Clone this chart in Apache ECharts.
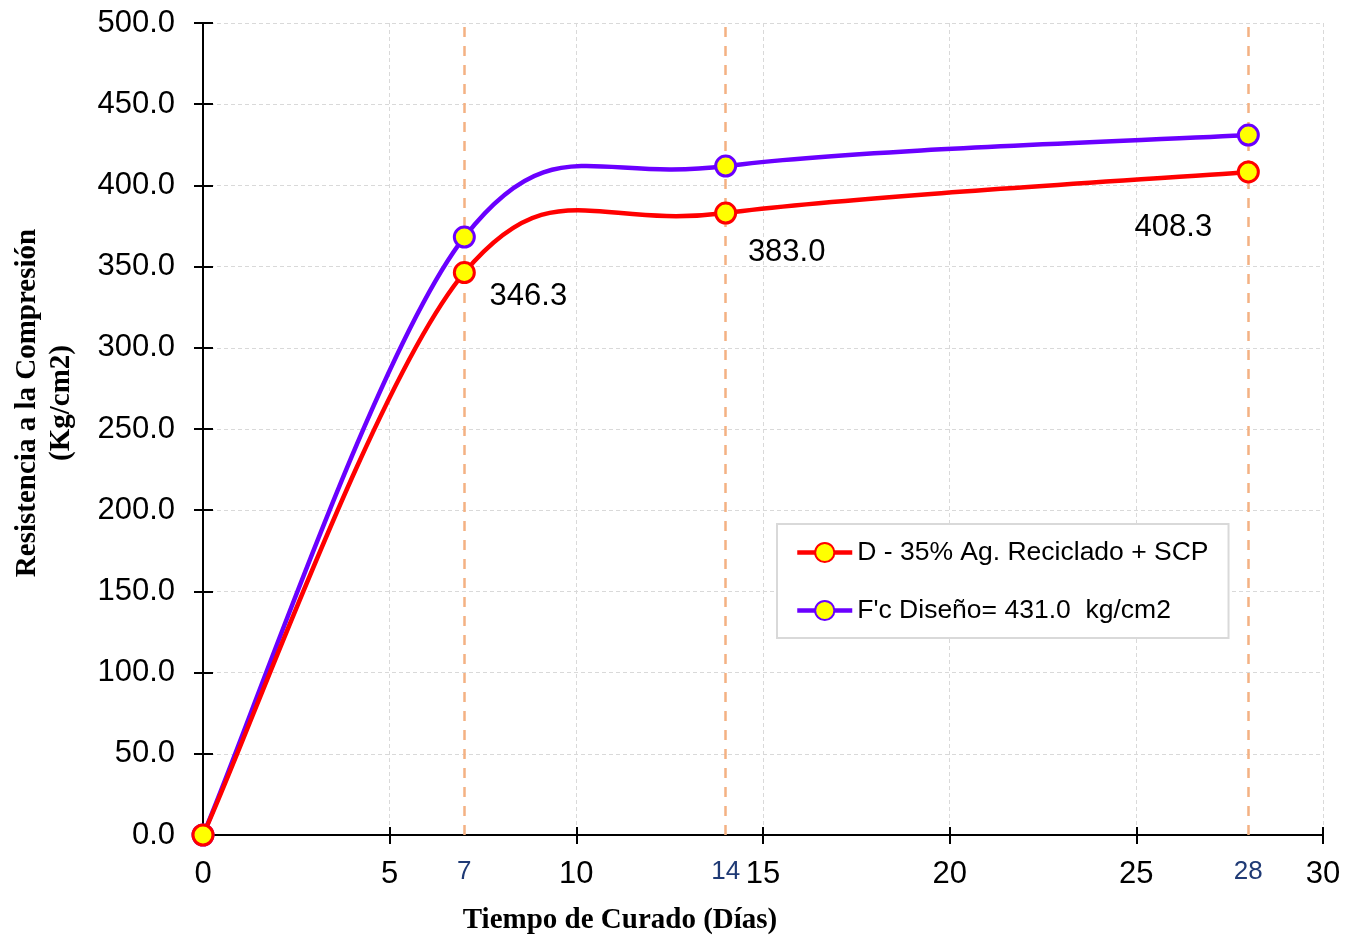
<!DOCTYPE html>
<html>
<head>
<meta charset="utf-8">
<script src="https://cdn.jsdelivr.net/npm/echarts@6/dist/echarts.min.js"></script>
<style>html,body{margin:0;padding:0;background:#fff}#c{width:1348px;height:942px}</style>
</head>
<body>
<div id="c"></div>
<script>
const days = [0, 7, 14, 28];
const redName = 'D - 35% Ag. Reciclado + SCP';
const purpleName = "F'c Diseño= 431.0  kg/cm2";
const redValues = [0, 346.3, 383.0, 408.3];
const purpleValues = [0, 368.2, 411.9, 431.0];
const ageMarks = [7, 14, 28];
const xTitle = 'Tiempo de Curado (Días)';
const yTitle1 = 'Resistencia a la Compresión';
const yTitle2 = '(Kg/cm2)';

const RED = '#FF0000';
const PURPLE = '#6A00FF';
const chart = echarts.init(document.getElementById('c'));
const FONT = '"Liberation Sans", Arial, sans-serif';
const SERIF = '"Liberation Serif", "Times New Roman", serif';

const redLabelOffsets = [null, [64, 24], [61, 39], [-75, 56]];
const redData = days.map((d, i) => {
  const item = { value: [d, redValues[i]] };
  if (redLabelOffsets[i]) {
    item.label = { show: true, position: 'inside', offset: redLabelOffsets[i],
      formatter: redValues[i].toFixed(1), fontSize: 31, color: '#000', fontFamily: FONT };
  }
  return item;
});
const purpleData = days.map((d, i) => [d, purpleValues[i]]);

// Excel-like smoothed curve (Catmull-Rom in screen space) drawn through the chart's own coordinate system
function curveSeries(id, values, color, z) {
  return {
    type: 'custom', id: id, z: z, silent: true, clip: false,
    data: days.map((d, i) => [d, values[i]]),
    encode: { x: 0, y: 1 },
    renderItem: function (params, api) {
      const i = params.dataIndex;
      if (i >= days.length - 1) return { type: 'group', children: [] };
      const P = days.map((d, j) => api.coord([d, values[j]]));
      const p0 = P[Math.max(i - 1, 0)], p1 = P[i], p2 = P[i + 1], p3 = P[Math.min(i + 2, P.length - 1)];
      return {
        type: 'bezierCurve',
        shape: {
          x1: p1[0], y1: p1[1], x2: p2[0], y2: p2[1],
          cpx1: p1[0] + (p2[0] - p0[0]) / 6, cpy1: p1[1] + (p2[1] - p0[1]) / 6,
          cpx2: p2[0] - (p3[0] - p1[0]) / 6, cpy2: p2[1] - (p3[1] - p1[1]) / 6
        },
        style: { stroke: color, lineWidth: 4.5, fill: 'none', lineCap: 'round' }
      };
    }
  };
}

const gridLine = { show: true, lineStyle: { color: '#d9d9d9', type: [4, 3], width: 1 } };

chart.setOption({
  animation: false,
  backgroundColor: '#fff',
  grid: { left: 203, right: 25, top: 23, bottom: 107 },
  xAxis: [
    { type: 'value', min: 0, max: 30, interval: 5, position: 'bottom',
      axisLine: { lineStyle: { color: '#000', width: 2 } },
      axisTick: { show: true, length: 9, lineStyle: { color: '#000', width: 2 } },
      axisLabel: { fontSize: 31, color: '#000', fontFamily: FONT, margin: 24 },
      splitLine: gridLine },
    { type: 'value', min: 0, max: 30, interval: 5, position: 'bottom',
      axisLine: { show: false },
      axisTick: { show: true, inside: true, length: 8, lineStyle: { color: '#000', width: 2 } },
      axisLabel: { show: false }, splitLine: { show: false } },
    { type: 'value', min: 0, max: 30, position: 'bottom',
      axisLine: { show: false }, axisTick: { show: false }, splitLine: { show: false },
      axisLabel: { show: true, customValues: ageMarks, fontSize: 26, color: '#1F3A75', fontFamily: FONT, margin: 24 } }
  ],
  yAxis: [
    { type: 'value', min: 0, max: 500, interval: 50, position: 'left',
      axisLine: { show: true, lineStyle: { color: '#000', width: 2 } },
      axisTick: { show: true, length: 9, lineStyle: { color: '#000', width: 2 } },
      axisLabel: { fontSize: 31, color: '#000', fontFamily: FONT, margin: 28, formatter: v => v.toFixed(1) },
      splitLine: gridLine },
    { type: 'value', min: 0, max: 500, interval: 50, position: 'left',
      axisLine: { show: false },
      axisTick: { show: true, inside: true, length: 10, lineStyle: { color: '#000', width: 2 } },
      axisLabel: { show: false }, splitLine: { show: false } }
  ],
  legend: {
    orient: 'vertical', left: 777, top: 524, padding: [15, 20, 14, 18],
    itemWidth: 55, itemHeight: 24, itemGap: 31,
    backgroundColor: '#fff', borderColor: '#d9d9d9', borderWidth: 2,
    textStyle: { fontSize: 26.5, color: '#000', fontFamily: FONT },
    data: [
      { name: redName, lineStyle: { color: RED, width: 4.5, opacity: 1 } },
      { name: purpleName, lineStyle: { color: PURPLE, width: 4.5, opacity: 1 } }
    ]
  },
  series: [
    { type: 'line', name: 'marks', data: [], z: 1, silent: true,
      markLine: { silent: true, symbol: 'none', label: { show: false },
        lineStyle: { color: '#F4B183', type: [10, 9], width: 2.5 },
        data: ageMarks.map(v => ({ xAxis: v })) } },
    curveSeries('purpleCurve', purpleValues, PURPLE, 3),
    curveSeries('redCurve', redValues, RED, 4),
    { type: 'line', name: purpleName, data: purpleData, z: 5,
      lineStyle: { color: PURPLE, width: 4.5, opacity: 0 },
      symbol: 'circle', symbolSize: 20,
      itemStyle: { color: '#FFFF00', borderColor: PURPLE, borderWidth: 3 } },
    { type: 'line', name: redName, data: redData, z: 6,
      lineStyle: { color: RED, width: 4.5, opacity: 0 },
      symbol: 'circle', symbolSize: 20,
      itemStyle: { color: '#FFFF00', borderColor: RED, borderWidth: 3 } }
  ],
  graphic: [
    { type: 'text', position: [620, 921],
      style: { text: xTitle, font: 'bold 29px ' + SERIF, fill: '#000', textAlign: 'center', textVerticalAlign: 'middle' } },
    { type: 'text', rotation: Math.PI / 2, position: [28, 403],
      style: { text: yTitle1, font: 'bold 29px ' + SERIF, fill: '#000', textAlign: 'center', textVerticalAlign: 'middle' } },
    { type: 'text', rotation: Math.PI / 2, position: [62, 403],
      style: { text: yTitle2, font: 'bold 29px ' + SERIF, fill: '#000', textAlign: 'center', textVerticalAlign: 'middle' } }
  ]
});
</script>
</body>
</html>
